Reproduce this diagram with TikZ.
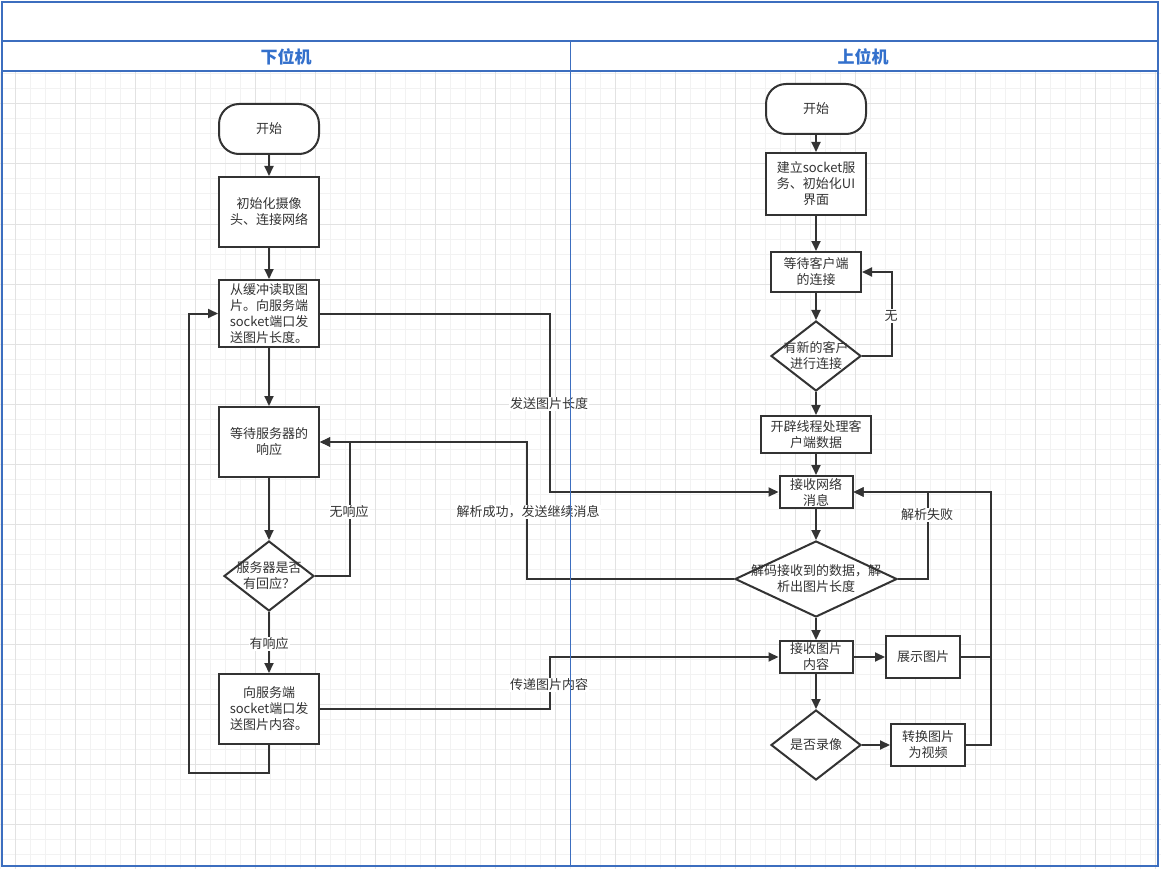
\documentclass[tikz,border=0pt]{standalone}
\usepackage{fontspec}
\setmainfont{Noto Sans CJK SC}
\usetikzlibrary{arrows.meta,shapes.geometric}
\definecolor{ink}{HTML}{333333}
\definecolor{lanec}{HTML}{3C6EBF}
\definecolor{lanetext}{HTML}{3370CC}
\definecolor{gridminor}{HTML}{F2F2F2}
\definecolor{gridmajor}{HTML}{E2E2E2}
\begin{document}
\begin{tikzpicture}[x=1pt,y=-1pt,
  cjk/.style={font=\fontsize{13}{16}\selectfont},
  box/.style={draw=ink,line width=2pt,fill=white,inner sep=0pt,align=center,text=ink,cjk},
  term/.style={box,rounded corners=20pt},
  dia/.style={draw=ink,line width=2pt,fill=white,diamond,inner sep=0pt},
  txt/.style={text=ink,align=center,inner sep=0pt,cjk},
  arr/.style={draw=ink,line width=2pt,-{Triangle[length=10pt,width=9pt]}},
  ln/.style={draw=ink,line width=2pt},
  lbl/.style={fill=white,text=ink,inner sep=1pt,cjk},
  lanehead/.style={text=lanetext,font=\fontsize{17}{20}\selectfont\bfseries}
]
\useasboundingbox (0,0) rectangle (1161,869);
\fill[white] (0,0) rectangle (1161,869);
% grid
\foreach \i in {0,...,77} {\draw[gridminor,line width=1pt] ({15*\i},72) -- ({15*\i},869);}
\foreach \j in {4,...,57} {\draw[gridminor,line width=1pt] (0,{14+15*\j}) -- (1161,{14+15*\j});}
\foreach \i in {0,...,19} {\draw[gridmajor,line width=1pt] ({15+60*\i},72) -- ({15+60*\i},869);}
\foreach \j in {1,...,14} {\draw[gridmajor,line width=1pt] (0,{44+60*\j}) -- (1161,{44+60*\j});}
% pool
\fill[white] (2,2) rectangle (1158,71);
\draw[lanec,line width=1.3pt] (2,2) rectangle (1158,866);
\draw[lanec,line width=1.3pt] (2,41) -- (1158,41);
\draw[lanec,line width=1.3pt] (2,71) -- (1158,71);
\node[lanehead] (h1) at (286,57) {下位机};
\node[lanehead] (h2) at (863,57) {上位机};

% left nodes
\node[term,minimum width=100pt,minimum height=50pt] (s1) at (269,129) {开始};
\node[box,minimum width=100pt,minimum height=70pt] (init) at (269,212) {初始化摄像\\头、连接网络};
\node[box,minimum width=100pt,minimum height=67pt] (read) at (269,313.5) {从缓冲读取图\\片。向服务端\\socket端口发\\送图片长度。};
\node[box,minimum width=100pt,minimum height=70pt] (wait) at (269,442) {等待服务器的\\响应};
\node[dia,minimum width=90pt,minimum height=70pt] (d1) at (269,576) {};
\node[box,minimum width=100pt,minimum height=70pt] (send) at (269,709) {向服务端\\socket端口发\\送图片内容。};

% right nodes
\node[term,minimum width=100pt,minimum height=50pt] (s2) at (816,109) {开始};
\node[box,minimum width=100pt,minimum height=62pt] (build) at (816,184) {建立socket服\\务、初始化UI\\界面};
\node[box,minimum width=90pt,minimum height=40pt] (waitc) at (816,272) {等待客户端\\的连接};
\node[dia,minimum width=90pt,minimum height=70pt] (d2) at (816,356) {};
\node[box,minimum width=110pt,minimum height=37pt] (thr) at (816,434.5) {开辟线程处理客\\户端数据};
\node[box,minimum width=73pt,minimum height=32pt] (recv) at (816,492) {接收网络\\消息};
\node[dia,minimum width=162pt,minimum height=76pt] (dec) at (816,579) {};
\node[box,minimum width=73pt,minimum height=32pt] (rimg) at (816,657) {接收图片\\内容};
\node[box,minimum width=74pt,minimum height=42pt] (show) at (923,657) {展示图片};
\node[dia,minimum width=90pt,minimum height=70pt] (rec) at (816,745) {};
\node[box,minimum width=74pt,minimum height=42pt] (conv) at (928,745) {转换图片\\为视频};

% left connectors
\draw[arr] (s1) -- (init);
\draw[arr] (init) -- (read);
\draw[arr] (read) -- (wait);
\draw[arr] (wait) -- (d1);
\draw[arr] (d1) -- (send);
\draw[arr] (d1.east) -- ++(35,0) |- (wait.east);
\coordinate (lp) at (189,773);
\draw[arr] (send.south) |- (lp) |- (read.west);
\draw[arr] (read.east) -- ++(230,0) |- (recv.west);
\draw[arr] (send.east) -- ++(230,0) |- (rimg.west);
\draw[arr] (dec.west) -- ++(-207,0) |- (wait.east);

% right connectors
\draw[arr] (s2) -- (build);
\draw[arr] (build) -- (waitc);
\draw[arr] (waitc) -- (d2);
\draw[arr] (d2) -- (thr);
\draw[arr] (thr) -- (recv);
\draw[arr] (recv) -- (dec);
\draw[arr] (dec) -- (rimg);
\draw[arr] (rimg) -- (show);
\draw[arr] (rimg) -- (rec);
\draw[arr] (rec) -- (conv);
\draw[arr] (d2.east) -- ++(30,0) |- (waitc.east);
\draw[arr] (dec.east) -- ++(30,0) |- (recv.east);
\draw[ln] (show.east) -- ++(30,0);
\draw[arr] (conv.east) -- ++(25,0) |- (recv.east);

% diamond texts
\node[txt] (d1t) at (269,576) {服务器是否\\有回应？};
\node[txt] (d2t) at (816,356) {有新的客户\\进行连接};
\node[txt] (dect) at (816,579) {解码接收到的数据，解\\析出图片长度};
\node[txt] (rect) at (816,745) {是否录像};

% labels
\node[lbl] (l1) at (269,644) {有响应};
\node[lbl] (l2) at (349,512) {无响应};
\node[lbl] (l3) at (549,404) {发送图片长度};
\node[lbl] (l4) at (528,512) {解析成功，发送继续消息};
\node[lbl] (l5) at (549,685) {传递图片内容};
\node[lbl] (l6) at (891,316) {无};
\node[lbl] (l7) at (927,515) {解析失败};

% lane divider
\draw[lanec,line width=1pt] (570,41) -- (570,866);
\end{tikzpicture}
\end{document}
